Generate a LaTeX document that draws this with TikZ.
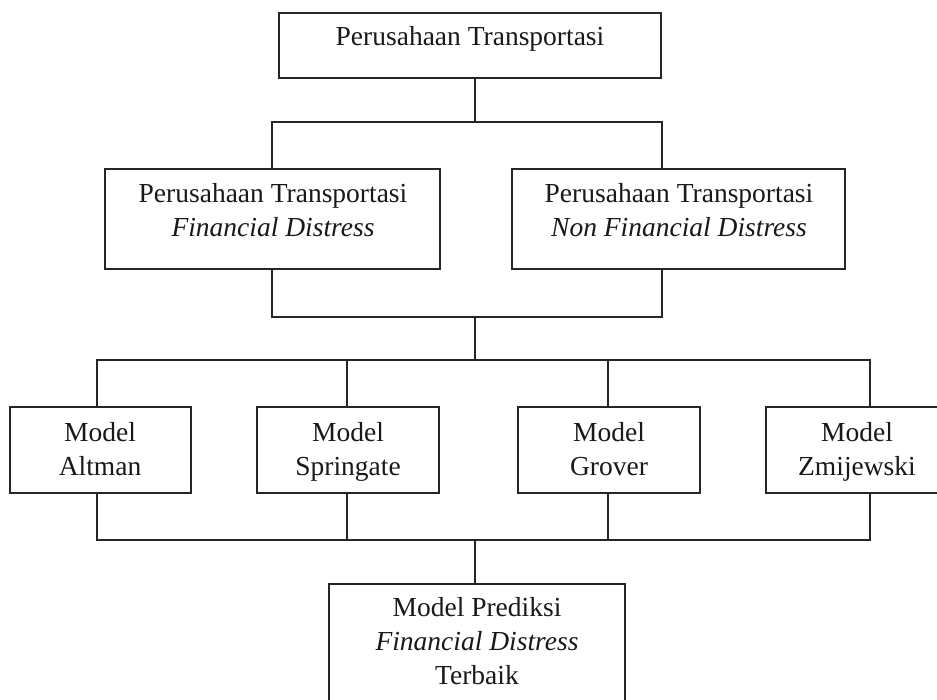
\documentclass[tikz,border=0pt]{standalone}
\usepackage{fontspec}
\setmainfont{Liberation Serif}
\begin{document}
\begin{tikzpicture}[x=1pt,y=-1pt,
  box/.style={draw=black!85, line width=1.6pt, rectangle, inner sep=0pt},
  txt/.style={align=center, font=\fontsize{27.5}{34}\selectfont, inner sep=0pt, text=black!90},
  conn/.style={draw=black!85, line width=1.6pt}]
\useasboundingbox (0,0) rectangle (937,700);
\fill[white] (0,0) rectangle (937,700);
\clip (0,0) rectangle (937,700);
% boxes
\node[box, minimum width=382pt, minimum height=65pt] (top) at (470,45.5) {};
\node[box, minimum width=335pt, minimum height=100pt] (L1) at (272.5,219) {};
\node[box, minimum width=333pt, minimum height=100pt] (R1) at (678.5,219) {};
\node[box, minimum width=181pt, minimum height=86pt] (A) at (100.5,450) {};
\node[box, minimum width=182pt, minimum height=86pt] (S) at (348,450) {};
\node[box, minimum width=182pt, minimum height=86pt] (G) at (609,450) {};
\node[box, minimum width=182pt, minimum height=86pt] (Z) at (857,450) {};
\node[box, minimum width=296pt, minimum height=126pt] (B) at (477,647) {};
% texts
\node[txt] (tTop) at (470,38.5) {Perusahaan Transportasi\strut};
\node[txt] (tL1) at (273,213) {Perusahaan Transportasi\strut\\\textit{Financial Distress}\strut};
\node[txt] (tR1) at (679,213) {Perusahaan Transportasi\strut\\\textit{Non Financial Distress}\strut};
\node[txt] (tA) at (100,452) {Model\strut\\Altman\strut};
\node[txt] (tS) at (348,452) {Model\strut\\Springate\strut};
\node[txt] (tG) at (609,452) {Model\strut\\Grover\strut};
\node[txt] (tZ) at (857,452) {Model\strut\\Zmijewski\strut};
\node[txt] (tB) at (477,644) {Model Prediksi\strut\\\textit{Financial Distress}\strut\\Terbaik\strut};
% junction coordinates
\coordinate (j1) at (475,122);
\coordinate (j1L) at (272,122);
\coordinate (j1R) at (662,122);
\coordinate (j2) at (475,317);
\coordinate (j3) at (475,360);
\coordinate (cA) at (97,360);
\coordinate (cS) at (347,360);
\coordinate (cG) at (608,360);
\coordinate (cZ) at (870,360);
\coordinate (dA) at (97,540);
\coordinate (dS) at (347,540);
\coordinate (dG) at (608,540);
\coordinate (dZ) at (870,540);
\coordinate (d0) at (475,540);
% connectors
\draw[conn] (top.south -| j1) -- (j1);
\draw[conn] (L1.north -| j1L) -- (j1L) -- (j1R) -- (R1.north -| j1R);
\draw[conn] (L1.south -| j1L) -- (j1L |- j2) -- (j1R |- j2) -- (R1.south -| j1R);
\draw[conn] (j2) -- (j3);
\draw[conn] (A.north -| cA) -- (cA) -- (cZ) -- (Z.north -| cZ);
\draw[conn] (S.north -| cS) -- (cS);
\draw[conn] (G.north -| cG) -- (cG);
\draw[conn] (A.south -| dA) -- (dA) -- (dZ) -- (Z.south -| dZ);
\draw[conn] (S.south -| dS) -- (dS);
\draw[conn] (G.south -| dG) -- (dG);
\draw[conn] (d0) -- (B.north -| d0);
\end{tikzpicture}
\end{document}
